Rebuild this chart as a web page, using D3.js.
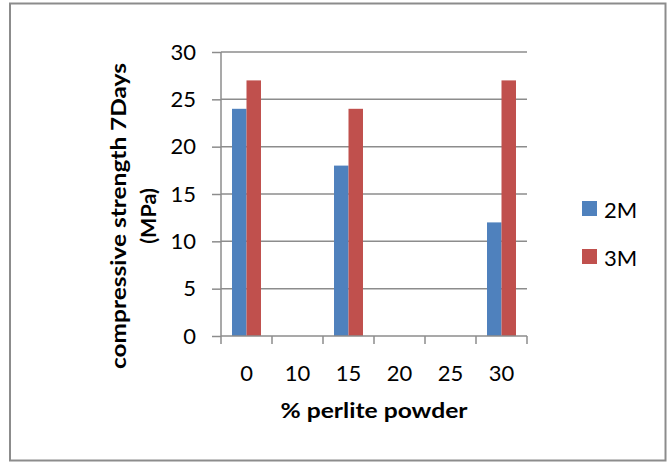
<!DOCTYPE html>
<html>
<head>
<meta charset="utf-8">
<script src="https://cdn.jsdelivr.net/npm/d3@7"></script>
<style>
  body { margin: 0; background: #fff; }
  svg { display: block; }
  text { font-family: Lato, "Open Sans", sans-serif; fill: #000; }
</style>
</head>
<body>
<svg id="chart" width="672" height="462"></svg>
<script>
const categories = ["0", "10", "15", "20", "25", "30"];
const seriesNames = ["2M", "3M"];
const values2M = [24, 0, 18, 0, 0, 12];
const values3M = [27, 0, 24, 0, 0, 27];
const yTicks = [0, 5, 10, 15, 20, 25, 30];
const colors = ["#4F81BD", "#C0504D"];

const svg = d3.select("#chart");

// outer frame
svg.append("rect")
  .attr("x", 10).attr("y", 3.5).attr("width", 655.5).attr("height", 457)
  .attr("fill", "#fff").attr("stroke", "#8c8c8c").attr("stroke-width", 2);

const pLeft = 221, pRight = 527, pTop = 52, pBottom = 336;

const x = d3.scaleBand().domain(categories).range([pLeft, pRight]).paddingInner(0).paddingOuter(0);
const x1 = d3.scaleBand().domain(seriesNames).range([0, x.bandwidth()]).paddingInner(0).paddingOuter(0.76);
const y = d3.scaleLinear().domain([0, 30]).range([pBottom, pTop]);

// gridlines
svg.append("g").selectAll("line").data(yTicks.filter(d => d > 0)).join("line")
  .attr("x1", pLeft).attr("x2", pRight)
  .attr("y1", d => y(d)).attr("y2", d => y(d))
  .attr("stroke", "#8c8c8c").attr("stroke-width", 1.5);

// bars
const data = categories.map((c, i) => ({ cat: c, vals: [values2M[i], values3M[i]] }));
const groups = svg.append("g").selectAll("g").data(data).join("g")
  .attr("transform", d => `translate(${x(d.cat)},0)`);
groups.selectAll("rect").data(d => d.vals.map((v, j) => ({ name: seriesNames[j], v, j }))).join("rect")
  .attr("x", d => x1(d.name))
  .attr("width", x1.bandwidth())
  .attr("y", d => y(d.v))
  .attr("height", d => y(0) - y(d.v))
  .attr("fill", d => colors[d.j]);

// y axis
const yAxis = d3.axisLeft(y).tickValues(yTicks).tickSize(9).tickPadding(16).tickFormat(d3.format("d"));
const gy = svg.append("g").attr("transform", `translate(${pLeft},0)`).call(yAxis);
gy.select(".domain").attr("stroke", "#8c8c8c").attr("stroke-width", 1.5).attr("d", `M0,${pTop}V${pBottom}`);
gy.selectAll(".tick line").attr("stroke", "#8c8c8c").attr("stroke-width", 1.5);
gy.selectAll(".tick text").attr("font-size", 22).attr("font-family", "Lato, sans-serif").attr("fill", "#000");

// x axis
const xAxis = d3.axisBottom(x).tickSize(0).tickPadding(29);
const gx = svg.append("g").attr("transform", `translate(0,${pBottom})`).call(xAxis);
gx.select(".domain").attr("stroke", "#8c8c8c").attr("stroke-width", 1.5).attr("d", `M${pLeft},0H${pRight}`);
gx.selectAll(".tick text").attr("font-size", 22).attr("font-family", "Lato, sans-serif").attr("fill", "#000");
// boundary tick marks between categories
const boundaries = categories.map(c => x(c)).concat([pRight]);
gx.append("g").selectAll("line").data(boundaries).join("line")
  .attr("x1", d => d).attr("x2", d => d).attr("y1", 0).attr("y2", 8)
  .attr("stroke", "#8c8c8c").attr("stroke-width", 1.5);

// x title
svg.append("text")
  .attr("x", (pLeft + pRight) / 2).attr("y", 418)
  .attr("text-anchor", "middle").attr("font-weight", "bold").attr("font-size", 21.5)
  .attr("textLength", 187).attr("lengthAdjust", "spacingAndGlyphs")
  .text("% perlite powder");

// y title (two lines)
const yt = svg.append("g").attr("transform", "translate(126,216) rotate(-90)");
yt.append("text").attr("x", 0).attr("y", 0)
  .attr("text-anchor", "middle").attr("font-weight", "bold").attr("font-size", 21.5)
  .attr("textLength", 306).attr("lengthAdjust", "spacingAndGlyphs")
  .text("compressive strength 7Days");
yt.append("text").attr("x", 0).attr("y", 30)
  .attr("text-anchor", "middle").attr("font-weight", "bold").attr("font-size", 21.5)
  .text("(MPa)");

// legend
const lg = svg.append("g").selectAll("g").data(seriesNames).join("g")
  .attr("transform", (d, i) => `translate(582,${201 + i * 48})`);
lg.append("rect").attr("width", 15).attr("height", 15).attr("fill", (d, i) => colors[i]);
lg.append("text").attr("x", 22).attr("y", 16.5).attr("font-size", 22).text(d => d);
</script>
</body>
</html>
